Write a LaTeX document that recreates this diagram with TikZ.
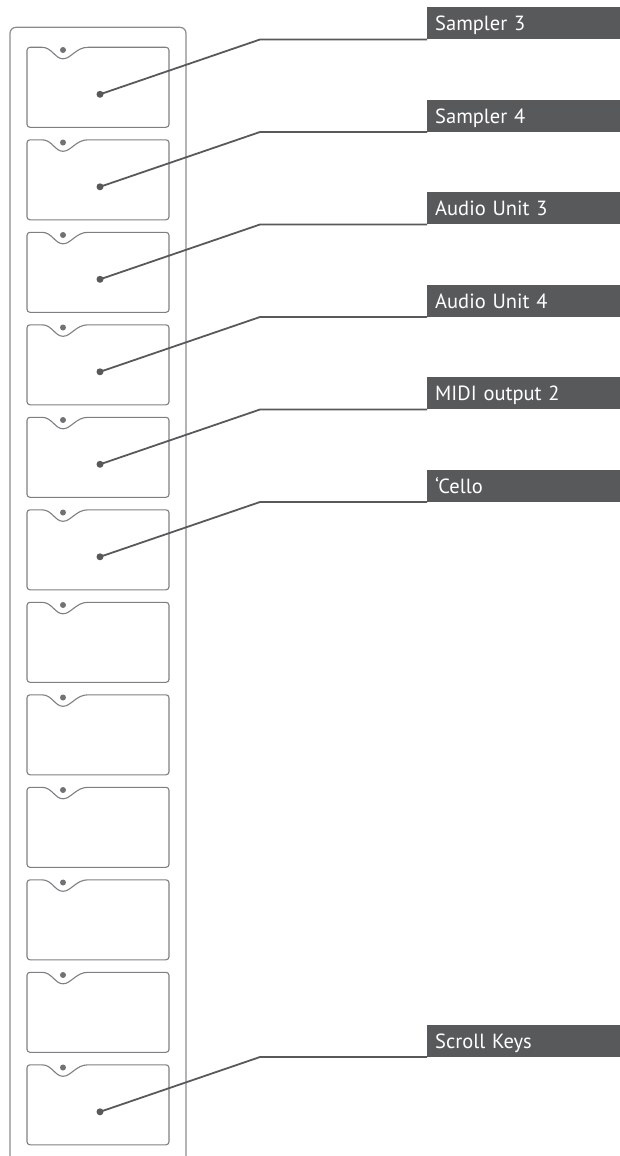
\documentclass[tikz,border=0pt]{standalone}
\usepackage{fontspec}
\setmainfont{PT Sans}
\usetikzlibrary{positioning}
\definecolor{slate}{HTML}{58595B}
\definecolor{rim}{HTML}{8A8C8E}
\definecolor{edge}{HTML}{7D7F82}

\begin{document}
\begin{tikzpicture}[x=1pt,y=-1pt,
  tray/.style={draw=rim,line width=1.2pt,rounded corners=6pt},
  slot/.style={draw=edge,line width=1.1pt},
  knob/.style={circle,fill=slate,inner sep=0pt,minimum size=7pt},
  notchdot/.style={circle,fill=slate!85,inner sep=0pt,minimum size=6pt},
  lead/.style={draw=slate,line width=1.8pt},
  tag/.style={fill=slate,text=white,anchor=south west,inner xsep=8pt,inner ysep=0pt,
    minimum height=32pt,text width=177pt,align=left,text height=14.5pt,text depth=0pt,
    font=\fontsize{20.5}{22}\selectfont}]
\useasboundingbox (0,0) rectangle (620,1156);
% the tray, open at the bottom
\draw[tray] (10,1160) -- (10,27.3) -- (186,27.3) -- (186,1160);
% twelve slots
\foreach \i in {0,...,11}{
  \pgfmathsetmacro\t{47.3+92.5*\i}
  \draw[slot,rounded corners=3pt] (88,\t) -- (169,\t) -- (169,\t+80) -- (27,\t+80) -- (27,\t) -- (42,\t);
  \draw[slot] (42,\t) .. controls (52,\t) and (55,\t+11.5) .. (63,\t+11.5)
    .. controls (71,\t+11.5) and (76,\t) .. (88,\t);
  \node[notchdot] (n\i) at (63,\t+2.7) {};
}
% labelled slots
\foreach \i/\name in {0/Sampler 3,1/Sampler 4,2/Audio Unit 3,3/Audio Unit 4,4/MIDI output 2,5/‘Cello,11/Scroll Keys}{
  \pgfmathsetmacro\t{47.3+92.5*\i}
  \pgfmathsetmacro\b{39.5+92.5*\i}
  \node[knob] (d\i) at (100,\t+47) {};
  \node[tag] (l\i) at (427,\b) {\name};
  \coordinate (k\i) at (260,\b);
  \draw[lead] (d\i.center) -- (k\i) -- (l\i.south west);
}
\end{tikzpicture}
\end{document}
